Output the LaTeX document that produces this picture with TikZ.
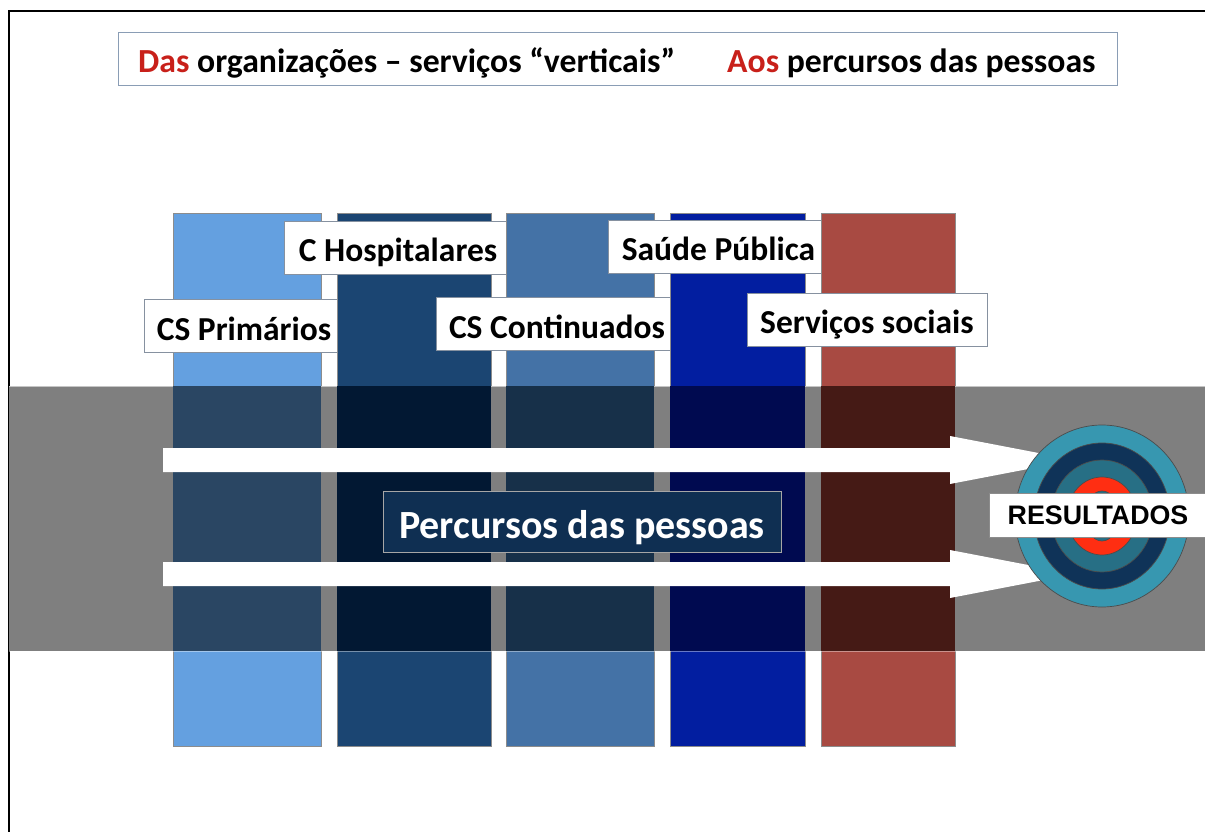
\documentclass[tikz,border=0pt]{standalone}
\usepackage{fontspec}
\setmainfont{Carlito}
\newfontfamily\arialfont{Liberation Sans}
\definecolor{edgeb}{HTML}{8A9DB5}
\definecolor{barA}{HTML}{64A0E0}
\definecolor{barB}{HTML}{1B4572}
\definecolor{barC}{HTML}{4472A6}
\definecolor{barD}{HTML}{021EA0}
\definecolor{barE}{HTML}{A84A42}
\definecolor{bandA}{HTML}{2A4663}
\definecolor{bandB}{HTML}{021833}
\definecolor{bandC}{HTML}{173049}
\definecolor{bandD}{HTML}{000A50}
\definecolor{bandE}{HTML}{451A15}
\definecolor{greyband}{HTML}{7F7F7F}
\definecolor{ringA}{HTML}{3797B0}
\definecolor{ringB}{HTML}{0F3358}
\definecolor{ringC}{HTML}{276F85}
\definecolor{ringD}{HTML}{FF2E12}
\definecolor{titlered}{HTML}{C8201A}
\definecolor{navybox}{HTML}{0F2F52}
\tikzset{
  x=1pt,y=-1pt,
  barbox/.style={draw=black!45,line width=0.8pt},
  label box/.style={draw=edgeb!60!gray,fill=white,line width=1pt,inner sep=0pt,font=\fontsize{33.5}{40}\bfseries\selectfont,text=black,minimum height=53pt,text height=34pt,text depth=6pt},
  title text/.style={anchor=base west,inner sep=0pt,font=\fontsize{33.7}{40}\bfseries\selectfont},
  ring/.style={draw=black!70,line width=0.7pt},
  flow/.style={fill=white,draw=none}
}
\newcommand{\vbar}[3]{%
  \fill[#3] (#1,213) rectangle (#2,746);
  \draw[barbox] (#1,213) rectangle (#2,746);
}
\begin{document}
\begin{tikzpicture}
\useasboundingbox (0,0) rectangle (1205,832);
\fill[white] (0,0) rectangle (1205,832);
\draw[black,line width=2pt] (9,832) -- (9,11) -- (1205,11);

\node[label box,minimum width=999pt,draw=edgeb,anchor=north west] (title) at (118,32) {};
\node[title text] (titleA) at (138,73) {\textcolor{titlered}{Das} organizações – serviços “verticais”};
\node[title text] (titleB) at (727,73) {\textcolor{titlered}{Aos} percursos das pessoas};

\vbar{173}{321}{barA}
\node[label box,minimum width=200pt] (cs) at (244,326) {CS Primários};
\vbar{337}{491}{barB}
\node[label box,minimum width=228pt] (ch) at (398,247.5) {C Hospitalares};
\vbar{506}{654}{barC}
\node[label box,minimum width=242pt] (cc) at (557,324) {CS Continuados};
\vbar{670}{805}{barD}
\node[label box,minimum width=221pt] (sp) at (718.5,246.5) {Saúde Pública};
\vbar{821}{955}{barE}
\node[label box,minimum width=240pt] (ss) at (867,319.5) {Serviços sociais};

\fill[greyband] (9,386) rectangle (1205,651);
\draw[white,opacity=.55,line width=.8pt] (9,386) -- (1205,386);
\draw[white,opacity=.4,line width=.8pt] (9,651) -- (1205,651);
\fill[bandA] (173,386) rectangle (321,651);
\fill[bandB] (337,386) rectangle (491,651);
\fill[bandC] (506,386) rectangle (654,651);
\fill[bandD] (670,386) rectangle (805,651);
\fill[bandE] (821,386) rectangle (955,651);

\fill[flow] (163,448) -- (950,448) -- (950,436) -- (1075,460) -- (950,484) -- (950,472) -- (163,472) -- cycle;
\fill[flow] (163,562) -- (950,562) -- (950,550) -- (1075,574) -- (950,598) -- (950,586) -- (163,586) -- cycle;

\coordinate (target) at (1102,516);
\draw[ring,fill=ringA] (target) ellipse [x radius=87,y radius=91];
\draw[ring,fill=ringB] (target) ellipse [x radius=68,y radius=73];
\draw[ring,fill=ringC] (target) ellipse [x radius=51,y radius=56];
\draw[ring,fill=ringD] (target) ellipse [x radius=35,y radius=39];
\draw[ring,fill=ringC] (target) ellipse [x radius=17,y radius=25];

\node[draw=white!65!black,fill=navybox,line width=1pt,text=white,minimum width=398pt,minimum height=61pt,inner sep=0pt,text height=38pt,text depth=5pt,font=\fontsize{40}{46}\bfseries\selectfont] (pp) at (582,521.5) {Percursos das pessoas};

\node[draw=black!45,fill=white,line width=1pt,minimum width=218pt,minimum height=44pt,inner sep=0pt,anchor=west,font=\arialfont\fontsize{26.8}{32}\bfseries\selectfont] (res) at (989,515.5) {\hspace*{-1pt}RESULTADOS};
\end{tikzpicture}
\end{document}
